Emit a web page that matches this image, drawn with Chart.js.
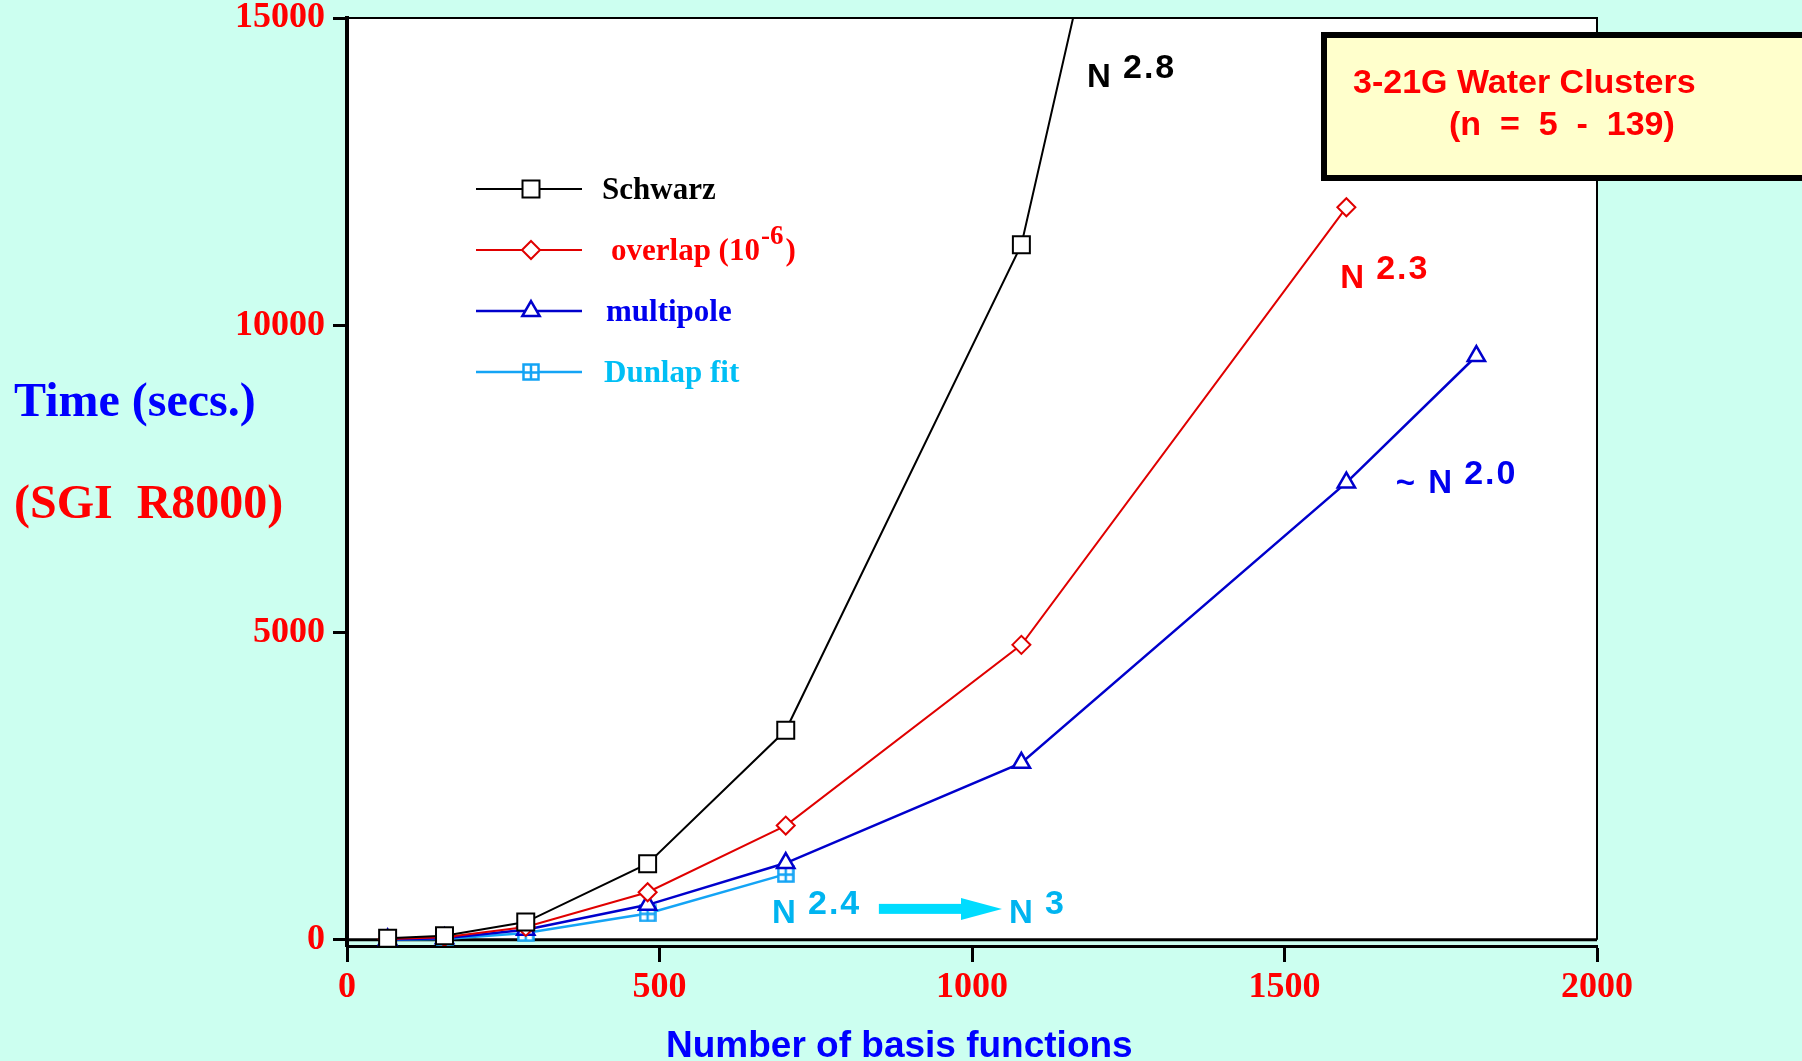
<!DOCTYPE html>
<html>
<head>
<meta charset="utf-8">
<script src="https://cdn.jsdelivr.net/npm/chart.js@4.4.0/dist/chart.umd.min.js"></script>
<style>
  html, body { margin: 0; padding: 0; background: #ccfff0; }
  canvas { display: block; }
</style>
</head>
<body>
<canvas id="timingChart" width="1802" height="1061"></canvas>
<script>
// 3-21G water clusters, n = 5 ... 139 (13 basis functions per molecule)
const basisFunctions = [65, 156, 286, 481, 702, 1079, 1599, 1807];

// CPU seconds per Fock build on SGI R8000
const schwarzTimes   = [25, 65, 290, 1240, 3410, 11310, 34500];
const overlapTimes   = [12, 42, 210, 775, 1860, 4800, 11920];
const multipoleTimes = [5, 25, 165, 570, 1250, 2880, 7440, 9500];
const dunlapTimes    = [3, 15, 110, 430, 1070];

const yTickValues = [0, 5000, 10000, 15000];

// scaling exponents written next to the curves (positions in data units)
const slopeNotes = [
  { base: 'N',   exp: '2.8', x: 1184, y: 13880, color: '#000000' },
  { base: 'N',   exp: '2.3', x: 1589, y: 10610, color: '#ff0000' },
  { base: '~ N', exp: '2.0', x: 1678, y: 7270,  color: '#0000ee' },
  { base: 'N',   exp: '2.4', x: 680,  y: 277,   color: '#00b4f0' },
  { base: 'N',   exp: '3',   x: 1059, y: 277,   color: '#00b4f0' }
];
const arrowFrom = 851, arrowTo = 1048, arrowAt = 504;

const serif = 'Liberation Serif';
const sans = 'Liberation Sans';

function pairs(times) {
  return times.map((t, i) => ({ x: basisFunctions[i], y: t }));
}

// square with a cross inside, used for the Dunlap fit points
function boxPlusMarker(color) {
  const c = document.createElement('canvas');
  c.width = 18; c.height = 18;
  const g = c.getContext('2d');
  g.fillStyle = '#fff';
  g.fillRect(1, 1, 16, 16);
  g.strokeStyle = color;
  g.lineWidth = 2.5;
  g.strokeRect(1.5, 1.5, 15, 15);
  g.beginPath();
  g.moveTo(9, 1.5); g.lineTo(9, 16.5);
  g.moveTo(1.5, 9.5); g.lineTo(16.5, 9.5);
  g.stroke();
  return c;
}

const dunlapColor = '#14a4f5';

const series = [
  { label: 'Schwarz', data: pairs(schwarzTimes), color: '#000000', style: 'rect', radius: 12, width: 2, text: '#000000' },
  { label: 'overlap', data: pairs(overlapTimes), color: '#e00000', style: 'rectRot', radius: 9, width: 2, text: '#ff0000' },
  { label: 'multipole', data: pairs(multipoleTimes), color: '#0000cc', style: 'triangle', radius: 10, width: 2.5, text: '#0000ee' },
  { label: 'Dunlap fit', data: pairs(dunlapTimes), color: dunlapColor, style: boxPlusMarker(dunlapColor), radius: 9, width: 2.5, text: '#00bff5' }
];

function drawMarker(ctx, s, x, y) {
  ctx.save();
  ctx.strokeStyle = s.color;
  ctx.fillStyle = '#fff';
  ctx.lineWidth = s.width;
  Chart.helpers.drawPoint(ctx, { pointStyle: s.style, radius: s.radius, rotation: 0, borderWidth: s.width }, x, y);
  ctx.restore();
}

const decorations = {
  id: 'decorations',
  beforeDraw(chart) {
    const { ctx, chartArea: a, scales: { y } } = chart;
    ctx.save();
    ctx.fillStyle = '#ffffff';
    ctx.fillRect(a.left, a.top, a.right - a.left, y.getPixelForValue(0) - a.top);
    ctx.restore();
  },
  beforeDatasetsDraw(chart) {
    const { ctx, chartArea: a, scales: { y } } = chart;
    const y0 = y.getPixelForValue(0);
    ctx.save();
    ctx.strokeStyle = '#000';
    ctx.lineWidth = 2;
    ctx.beginPath();
    ctx.moveTo(a.left, a.top);
    ctx.lineTo(a.right, a.top);
    ctx.lineTo(a.right, y0);
    ctx.stroke();
    ctx.lineWidth = 3;
    ctx.beginPath();
    ctx.moveTo(a.left, y0);
    ctx.lineTo(a.right, y0);
    ctx.stroke();
    ctx.restore();
  },
  afterDraw(chart) {
    const { ctx, chartArea: a, scales: { x, y } } = chart;
    ctx.save();

    // legend
    const legendX = a.left + 129, legendTop = a.top + 171, rowGap = 61;
    series.forEach((s, i) => {
      const ly = legendTop + i * rowGap;
      ctx.strokeStyle = s.color;
      ctx.lineWidth = s.width;
      ctx.beginPath();
      ctx.moveTo(legendX, ly);
      ctx.lineTo(legendX + 106, ly);
      ctx.stroke();
      drawMarker(ctx, s, legendX + 55, ly);
      ctx.fillStyle = s.text;
      ctx.font = `bold 31px "${serif}"`;
      ctx.textBaseline = 'alphabetic';
      ctx.textAlign = 'left';
      const tx = legendX + 126 + [0, 9, 4, 2][i];
      if (i === 1) {
        const head = 'overlap (10';
        ctx.fillText(head, tx, ly + 10);
        let w = ctx.measureText(head).width;
        ctx.font = `bold 27px "${serif}"`;
        ctx.fillText('-6', tx + w + 1, ly - 6);
        w += ctx.measureText('-6').width + 3;
        ctx.font = `bold 31px "${serif}"`;
        ctx.fillText(')', tx + w, ly + 10);
      } else {
        ctx.fillText(s.label, tx, ly + 10);
      }
    });

    // exponent notes
    slopeNotes.forEach(n => {
      const px = x.getPixelForValue(n.x), py = y.getPixelForValue(n.y);
      ctx.fillStyle = n.color;
      ctx.font = `bold 33px "${sans}"`;
      ctx.textAlign = 'left';
      ctx.textBaseline = 'alphabetic';
      ctx.letterSpacing = '0px';
      let nStart = px;
      if (n.base.length > 1) {
        ctx.fillText(n.base.slice(0, -1), px, py);
        nStart = px + ctx.measureText(n.base.slice(0, -1)).width + 4;
      }
      ctx.fillText(n.base.slice(-1), nStart, py);
      ctx.font = `bold 34px "${sans}"`;
      ctx.letterSpacing = '2px';
      ctx.fillText(n.exp, nStart + 36, py - 9);
      ctx.letterSpacing = '0px';
    });

    // N^2.4 -> N^3 arrow
    const ax0 = x.getPixelForValue(arrowFrom), ax1 = x.getPixelForValue(arrowTo), ay = y.getPixelForValue(arrowAt);
    ctx.fillStyle = '#00dcff';
    ctx.fillRect(ax0, ay - 5, ax1 - 40 - ax0, 10);
    ctx.beginPath();
    ctx.moveTo(ax1 - 41, ay - 11);
    ctx.lineTo(ax1, ay);
    ctx.lineTo(ax1 - 41, ay + 11);
    ctx.closePath();
    ctx.fill();

    // caption box
    ctx.fillStyle = '#ffffcc';
    ctx.fillRect(1324, 35, 490, 143);
    ctx.strokeStyle = '#000';
    ctx.lineWidth = 6;
    ctx.strokeRect(1324, 35, 490, 143);
    ctx.fillStyle = '#ff0000';
    ctx.font = `bold 34px "${sans}"`;
    ctx.fillText('3-21G Water Clusters', 1353, 93);
    ctx.fillText('(n  =  5  -  139)', 1449, 135);

    // axis titles
    ctx.fillStyle = '#0000ff';
    ctx.font = `bold 37px "${sans}"`;
    ctx.fillText('Number of basis functions', 666, 1057);
    ctx.font = `bold 48px "${serif}"`;
    ctx.fillText('Time (secs.)', 14, 416);
    ctx.fillStyle = '#ff0000';
    ctx.fillText('(SGI  R8000)', 14, 518);

    ctx.restore();
  }
};

const tickFont = { family: serif, weight: 'bold', size: 36, lineHeight: 1 };
const plainNumber = v => String(v);

new Chart(document.getElementById('timingChart'), {
  type: 'scatter',
  data: {
    datasets: series.map(s => ({
      label: s.label,
      data: s.data,
      showLine: true,
      borderColor: s.color,
      borderWidth: s.width,
      pointStyle: s.style,
      pointRadius: s.radius,
      pointBorderWidth: s.width,
      pointBorderColor: s.color,
      pointBackgroundColor: '#ffffff',
      tension: 0
    }))
  },
  options: {
    responsive: false,
    animation: false,
    layout: { padding: { left: 0, top: 18, right: 205, bottom: 0 } },
    plugins: { legend: { display: false }, tooltip: { enabled: false } },
    scales: {
      x: {
        type: 'linear',
        min: 0,
        max: 2000,
        ticks: { stepSize: 500, color: '#ff0000', font: tickFont, padding: 8, maxRotation: 0, callback: plainNumber },
        grid: { drawOnChartArea: false, tickLength: 16, tickWidth: 3, tickColor: '#000' },
        border: { color: '#000', width: 3 },
        afterFit(scale) { scale.height = 115; scale.paddingLeft = 0; scale.paddingRight = 0; }
      },
      y: {
        min: -100,
        max: 15000,
        afterBuildTicks(scale) { scale.ticks = yTickValues.map(v => ({ value: v })); },
        ticks: { color: '#ff0000', font: tickFont, padding: 8, callback: plainNumber },
        grid: { drawOnChartArea: false, tickLength: 14, tickWidth: 3, tickColor: '#000' },
        border: { color: '#000', width: 4 },
        afterFit(scale) { scale.width = 347; scale.paddingTop = 0; scale.paddingBottom = 0; }
      }
    }
  },
  plugins: [decorations]
});
</script>
</body>
</html>
